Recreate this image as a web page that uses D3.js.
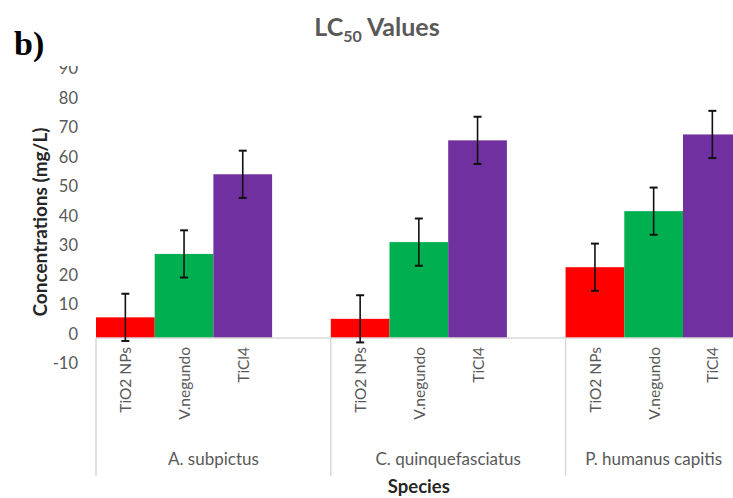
<!DOCTYPE html>
<html>
<head>
<meta charset="utf-8">
<script src="https://cdn.jsdelivr.net/npm/d3@7"></script>
<style>
  html, body { margin: 0; padding: 0; background: #fff; }
  svg { display: block; }
</style>
</head>
<body>
<svg id="chart" width="733" height="498"></svg>
<script>
// LC50 values (mg/L) per species and treatment, with error bars
const species = ["A. subpictus", "C. quinquefasciatus", "P. humanus capitis"];
const treatments = ["TiO2 NPs", "V.negundo", "TiCl4"];
const tio2Values = [7.0, 6.5, 24.0];
const negundoValues = [28.5, 32.5, 43.0];
const ticl4Values = [55.5, 67.0, 69.0];
const tio2Errors = [8, 8, 8];
const negundoErrors = [8, 8, 8];
const ticl4Errors = [8, 8, 8];
const yTicks = [-10, 0, 10, 20, 30, 40, 50, 60, 70, 80, 90];
const colors = ["#ff0000", "#00b050", "#7030a0"];

const seriesValues = [tio2Values, negundoValues, ticl4Values];
const seriesErrors = [tio2Errors, negundoErrors, ticl4Errors];

const svg = d3.select("#chart");
const font = "Lato, 'Open Sans', sans-serif";

// Category slots: three treatments per species, with an empty slot between species
const slots = [];
species.forEach((s, i) => {
  treatments.forEach((t, j) => slots.push({ key: s + "|" + t, species: s, si: i, ti: j }));
  if (i < species.length - 1) slots.push({ key: s + "|gap", species: s, si: i, ti: -1 });
});

const plotLeft = 96, slotW = 58.7;
const x = d3.scaleBand()
  .domain(slots.map(d => d.key))
  .range([plotLeft, plotLeft + slots.length * slotW])
  .padding(0);

const y = d3.scaleLinear().domain([-10, 90]).range([367.5, 72.5]);

const bars = slots.filter(d => d.ti >= 0).map(d => ({
  ...d,
  value: seriesValues[d.ti][d.si],
  err: seriesErrors[d.ti][d.si]
}));

// Title with subscript
const title = svg.append("text")
  .attr("x", 377).attr("y", 36)
  .attr("text-anchor", "middle")
  .attr("font-family", font).attr("font-weight", "bold")
  .attr("font-size", 25).attr("fill", "#595959");
title.append("tspan").text("LC");
title.append("tspan").attr("font-size", 16).attr("dy", 6).text("50");
title.append("tspan").attr("dy", -6).text(" Values");

// Panel label
svg.append("text")
  .attr("x", 14).attr("y", 55)
  .attr("font-family", "'Liberation Serif', 'DejaVu Serif', serif")
  .attr("font-weight", "bold").attr("font-size", 34).attr("fill", "#000")
  .text("b)");

// Y axis labels (no axis line); the top label is cut by the header band
const clip = svg.append("defs").append("clipPath").attr("id", "ylabclip");
clip.append("rect").attr("x", -200).attr("y", 66).attr("width", 400).attr("height", 432);

const yAxis = d3.axisLeft(y).tickValues(yTicks).tickSize(0).tickPadding(0)
  .tickFormat(d => String(d));
const yg = svg.append("g")
  .attr("transform", "translate(78,0)")
  .attr("clip-path", "url(#ylabclip)")
  .call(yAxis);
yg.select(".domain").remove();
yg.selectAll("text")
  .attr("font-family", font).attr("font-size", 16.5)
  .attr("fill", "#595959")
  .attr("transform", "translate(0,-4)");

// Y axis title
svg.append("text")
  .attr("transform", `translate(47,${(y(90) + y(-10)) / 2 + 2}) rotate(-90)`)
  .attr("text-anchor", "middle")
  .attr("font-family", font).attr("font-weight", "bold")
  .attr("font-size", 19).attr("fill", "#262626")
  .text("Concentrations (mg/L)");

// Bars
svg.append("g").selectAll("rect")
  .data(bars).join("rect")
  .attr("x", d => x(d.key))
  .attr("width", x.bandwidth())
  .attr("y", d => y(Math.max(0, d.value)))
  .attr("height", d => Math.abs(y(d.value) - y(0)))
  .attr("fill", d => colors[d.ti]);

// Category axis baseline
svg.append("line")
  .attr("x1", plotLeft).attr("x2", x.range()[1])
  .attr("y1", y(0)).attr("y2", y(0))
  .attr("stroke", "#d9d9d9").attr("stroke-width", 1.5);

// Group dividers
const groupRanges = species.map((s, i) => {
  const keys = slots.filter(d => d.si === i && d.ti >= 0).map(d => d.key);
  const start = x(keys[0]);
  const end = i < species.length - 1 ? x(s + "|gap") + x.bandwidth() : x(keys[keys.length - 1]) + x.bandwidth();
  return { s, start, end };
});
const dividerXs = groupRanges.map(g => g.start).concat([groupRanges[groupRanges.length - 1].end]);
svg.append("g").selectAll("line")
  .data(dividerXs).join("line")
  .attr("x1", d => d).attr("x2", d => d)
  .attr("y1", y(0)).attr("y2", 476)
  .attr("stroke", "#d9d9d9").attr("stroke-width", 1.5);

// Error bars
const eb = svg.append("g").attr("stroke", "#111").attr("stroke-width", 1.6);
bars.forEach(d => {
  const cx = x(d.key) + x.bandwidth() / 2;
  const y1 = y(d.value + d.err), y2 = y(d.value - d.err);
  eb.append("line").attr("x1", cx).attr("x2", cx).attr("y1", y1).attr("y2", y2);
  eb.append("line").attr("x1", cx - 4).attr("x2", cx + 4).attr("y1", y1).attr("y2", y1).attr("stroke-width", 2);
  eb.append("line").attr("x1", cx - 4).attr("x2", cx + 4).attr("y1", y2).attr("y2", y2).attr("stroke-width", 2);
});

// Treatment labels (rotated)
svg.append("g").selectAll("text")
  .data(bars).join("text")
  .attr("transform", d => `translate(${x(d.key) + x.bandwidth() / 2 + 6},347) rotate(-90)`)
  .attr("text-anchor", "end")
  .attr("font-family", font).attr("font-size", 15.5)
  .attr("fill", "#595959")
  .text(d => treatments[d.ti]);

// Species labels
svg.append("g").selectAll("text")
  .data(groupRanges).join("text")
  .attr("x", d => (d.start + d.end) / 2)
  .attr("y", 465)
  .attr("text-anchor", "middle")
  .attr("font-family", font).attr("font-size", 17)
  .attr("fill", "#595959")
  .text(d => d.s);

// X axis title
svg.append("text")
  .attr("x", (plotLeft + x.range()[1]) / 2)
  .attr("y", 493)
  .attr("text-anchor", "middle")
  .attr("font-family", font).attr("font-weight", "bold")
  .attr("font-size", 18.5).attr("fill", "#262626")
  .text("Species");
</script>
</body>
</html>
